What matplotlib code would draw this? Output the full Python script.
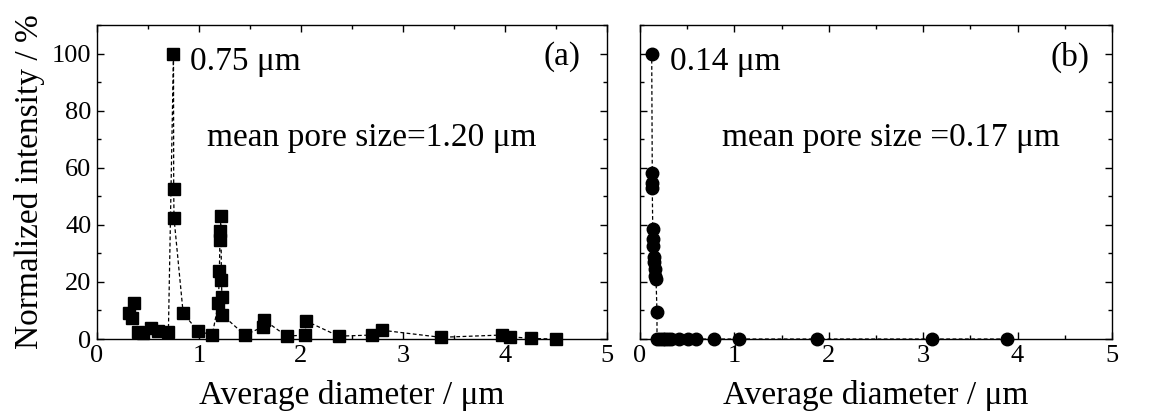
#!/usr/bin/env python3
"""
Pore size distributions of two membranes, (a) and (b), side by side.

Usage:
  python plot.py

Outputs:
  out.png
"""

import matplotlib

matplotlib.use("Agg")
import matplotlib.pyplot as plt
from matplotlib.ticker import MultipleLocator

# Panel (a): square markers.
diam_a = [0.31, 0.34, 0.36, 0.40, 0.45, 0.53, 0.60, 0.70, 0.75, 0.752, 0.755,
          0.845, 0.99, 1.13, 1.19, 1.20, 1.205, 1.21, 1.215, 1.22, 1.225, 1.23,
          1.45, 1.63, 1.64, 1.86, 2.04, 2.05, 2.37, 2.70, 2.79, 3.37, 3.97,
          4.05, 4.26, 4.50]
inten_a = [9.1, 7.3, 12.5, 2.4, 2.2, 4.0, 2.8, 2.4, 100.0, 52.7, 42.4,
           9.0, 2.8, 1.4, 12.5, 24.0, 34.6, 38.0, 43.0, 20.6, 14.8, 8.4,
           1.4, 4.3, 6.6, 1.0, 1.4, 6.3, 1.0, 1.4, 3.1, 0.6, 1.4,
           0.8, 0.2, 0.0]

# Panel (b): round markers.
diam_b = [0.124, 0.13, 0.13, 0.13, 0.135, 0.14, 0.14, 0.145, 0.15, 0.16,
          0.16, 0.17, 0.18, 0.18, 0.21, 0.24, 0.27, 0.30, 0.33, 0.41, 0.51,
          0.59, 0.78, 1.05, 1.88, 3.09, 3.89]
inten_b = [100.0, 58.3, 54.8, 53.0, 38.5, 35.0, 32.7, 28.7, 26.9, 24.5,
           22.2, 21.0, 9.3, 0.0, 0.0, 0.0, 0.0, 0.0, 0.0, 0.0, 0.0,
           0.0, 0.0, 0.0, 0.0, 0.0, 0.0]

PEAK_A = "0.75 μm"
PEAK_B = "0.14 μm"
MEAN_A = "mean pore size=1.20 μm"
MEAN_B = "mean pore size =0.17 μm"

X_LABEL = "Average diameter / μm"
Y_LABEL = "Normalized intensity / %"

plt.rcParams["font.family"] = ["Liberation Serif", "DejaVu Serif"]


def style_axes(ax, show_ylabels=True):
    ax.set_xlim(0, 5)
    ax.set_ylim(0, 110)
    ax.xaxis.set_major_locator(MultipleLocator(1))
    ax.xaxis.set_minor_locator(MultipleLocator(0.5))
    ax.yaxis.set_major_locator(MultipleLocator(20))
    ax.yaxis.set_minor_locator(MultipleLocator(10))
    ax.tick_params(which="both", direction="in", top=True, right=True,
                   width=1.0, labelsize=19, pad=4)
    ax.tick_params(which="major", length=5)
    ax.tick_params(which="minor", length=3)
    if not show_ylabels:
        ax.tick_params(labelleft=False)
    for sp in ax.spines.values():
        sp.set_linewidth(1.0)
    ax.set_xlabel(X_LABEL, fontsize=24, labelpad=10)


def draw_panel(ax, x, y, marker, ms, peak, mean, tag, peak_x, mean_x):
    # dashed guide line clipped to the frame, markers allowed to sit on the spine
    ax.plot(x, y, ls=(0, (3, 2)), lw=0.9, color="black")
    ax.plot(x, y, ls="none", marker=marker, ms=ms, color="black",
            clip_on=False, zorder=3)
    ax.text(peak_x, 97, peak, fontsize=24, va="center", ha="left")
    ax.text(4.56, 98.8, tag, fontsize=24, va="center", ha="center")
    ax.text(mean_x, 70.6, mean, fontsize=24, va="center", ha="left")


def main() -> None:
    fig = plt.figure(figsize=(11.63, 4.17), dpi=100)
    ax_a = fig.add_axes([0.0834, 0.187, 0.4385, 0.753])
    ax_b = fig.add_axes([0.5503, 0.187, 0.4058, 0.753])

    draw_panel(ax_a, diam_a, inten_a, "s", 8.5, PEAK_A, MEAN_A, "(a)", 0.91, 1.08)
    draw_panel(ax_b, diam_b, inten_b, "o", 9, PEAK_B, MEAN_B, "(b)", 0.32, 0.87)

    style_axes(ax_a)
    style_axes(ax_b, show_ylabels=False)
    ax_a.set_ylabel(Y_LABEL, fontsize=24, labelpad=5)

    fig.savefig("out.png", dpi=100)
    plt.close(fig)


if __name__ == "__main__":
    main()
